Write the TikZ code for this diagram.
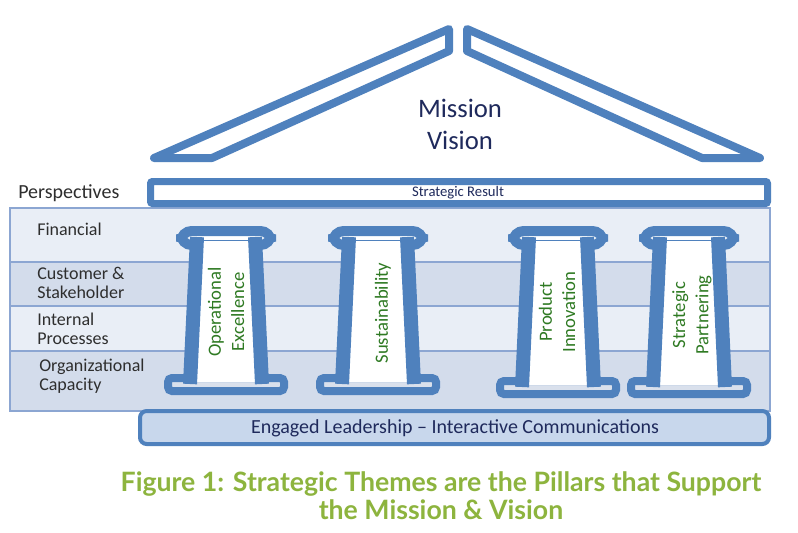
\documentclass[tikz,border=0pt]{standalone}
\usepackage{fontspec}
\setmainfont{Carlito}
\newfontfamily\capfont{Lato}
\definecolor{pblue}{HTML}{4F81BD}
\definecolor{bandlight}{HTML}{E9EEF6}
\definecolor{banddark}{HTML}{D3DCEB}
\definecolor{bandline}{HTML}{8CA6D2}
\definecolor{barfill}{HTML}{C8D7EC}
\definecolor{basefill}{HTML}{D9E0EC}
\definecolor{navy}{HTML}{1F2A5C}
\definecolor{labgray}{HTML}{2E2E2E}
\definecolor{pgreen}{HTML}{2F7A23}
\definecolor{capgreen}{HTML}{8DB43E}
\tikzset{
  roofslab/.style={draw=pblue, line width=6pt, line join=round, fill=white},
  resultbar/.style={draw=pblue, line width=5.25pt, fill=white, rounded corners=1.5pt},
  wall/.style={draw=pblue, line width=10.5pt},
  capital/.style={draw=pblue, line width=7.5pt, fill=white, rounded corners=8pt},
  pbase/.style={draw=pblue, line width=6pt, fill=basefill, rounded corners=3pt},
  rowlight/.style={fill=bandlight, draw=bandline, line width=1pt},
  rowdark/.style={fill=banddark, draw=bandline, line width=1pt},
  persp/.style={anchor=west, text=labgray, align=left, font=\fontsize{13.5}{14.5}\selectfont, inner sep=0pt},
  pillartext/.style={rotate=90, text=pgreen, align=center, font=\fontsize{14}{17.5}\selectfont, inner sep=0pt},
}
% #1 centre x, #2 outer top of the base
\newcommand\mypillar[2]{%
  \draw[capital] (#1-45,231) rectangle (#1+45,245);
  \draw[pbase] (#1-58,#2+4) rectangle (#1+58,#2+17);
  \fill[white] (#1-29,241) -- (#1+29,241) -- (#1+36,#2+8) -- (#1-36,#2+8) -- cycle;
  \draw[wall] (#1-29,237) -- (#1-36,#2+10);
  \draw[wall] (#1+29,237) -- (#1+36,#2+10);
}
\begin{document}
\begin{tikzpicture}[x=0.75pt,y=-0.75pt]
\useasboundingbox (0,0) rectangle (798,532);
\fill[white] (0,0) rectangle (798,532);
% perspective band
\draw[rowlight] (10,208) rectangle (770,262);
\draw[rowdark] (10,262) rectangle (770,306);
\draw[rowlight] (10,306) rectangle (770,351);
\draw[rowdark] (10,351) rectangle (770,411);
\node[persp] (fin) at (37,229) {Financial};
\node[persp] (cust) at (37,283) {Customer \&\\Stakeholder};
\node[persp] (intp) at (37,329) {Internal\\Processes};
\node[persp] (org) at (39,376) {Organizational\\Capacity};
% bottom bar
\draw[draw=pblue, line width=3pt, fill=barfill, rounded corners=5pt] (140,411) rectangle (769,444);
\node[text=navy, font=\fontsize{15}{18}\selectfont, inner sep=0pt] (lead) at (455,428) {Engaged Leadership – Interactive Communications};
% pillars
\mypillar{226}{374}
\mypillar{378}{374}
\mypillar{558}{377}
\mypillar{689}{377}
\node[pillartext] (p1) at (226,312) {Operational\\Excellence};
\node[pillartext] (p2) at (383,313) {Sustainability};
\node[pillartext] (p3) at (557,312) {Product\\Innovation};
\node[pillartext] (p4) at (692,315) {Strategic\\Partnering};
% strategic result bar
\draw[resultbar] (150.5,181.5) rectangle (767.5,203.5);
\node[text=navy, font=\fontsize{11}{13}\selectfont, inner sep=0pt] (sr) at (458,193) {Strategic Result};
\node[anchor=west, text=labgray, font=\fontsize{15}{18}\selectfont, inner sep=0pt] (persptitle) at (18,193) {Perspectives};
% roof
\draw[roofslab] (154,158) -- (212,158) -- (449,51) -- (449,29) -- cycle;
\draw[roofslab] (760,158) -- (702,158) -- (467,51) -- (467,29) -- cycle;
\node[text=navy, align=center, font=\fontsize{20}{24}\selectfont, inner sep=0pt] (mv) at (460,124) {Mission\\Vision};
% caption
\node[text=capgreen, align=center, font=\capfont\bfseries\fontsize{20}{21}\selectfont, inner sep=0pt] (cap) at (441,496) {Figure 1: Strategic Themes are the Pillars that Support\\the Mission \& Vision};
\end{tikzpicture}
\end{document}
